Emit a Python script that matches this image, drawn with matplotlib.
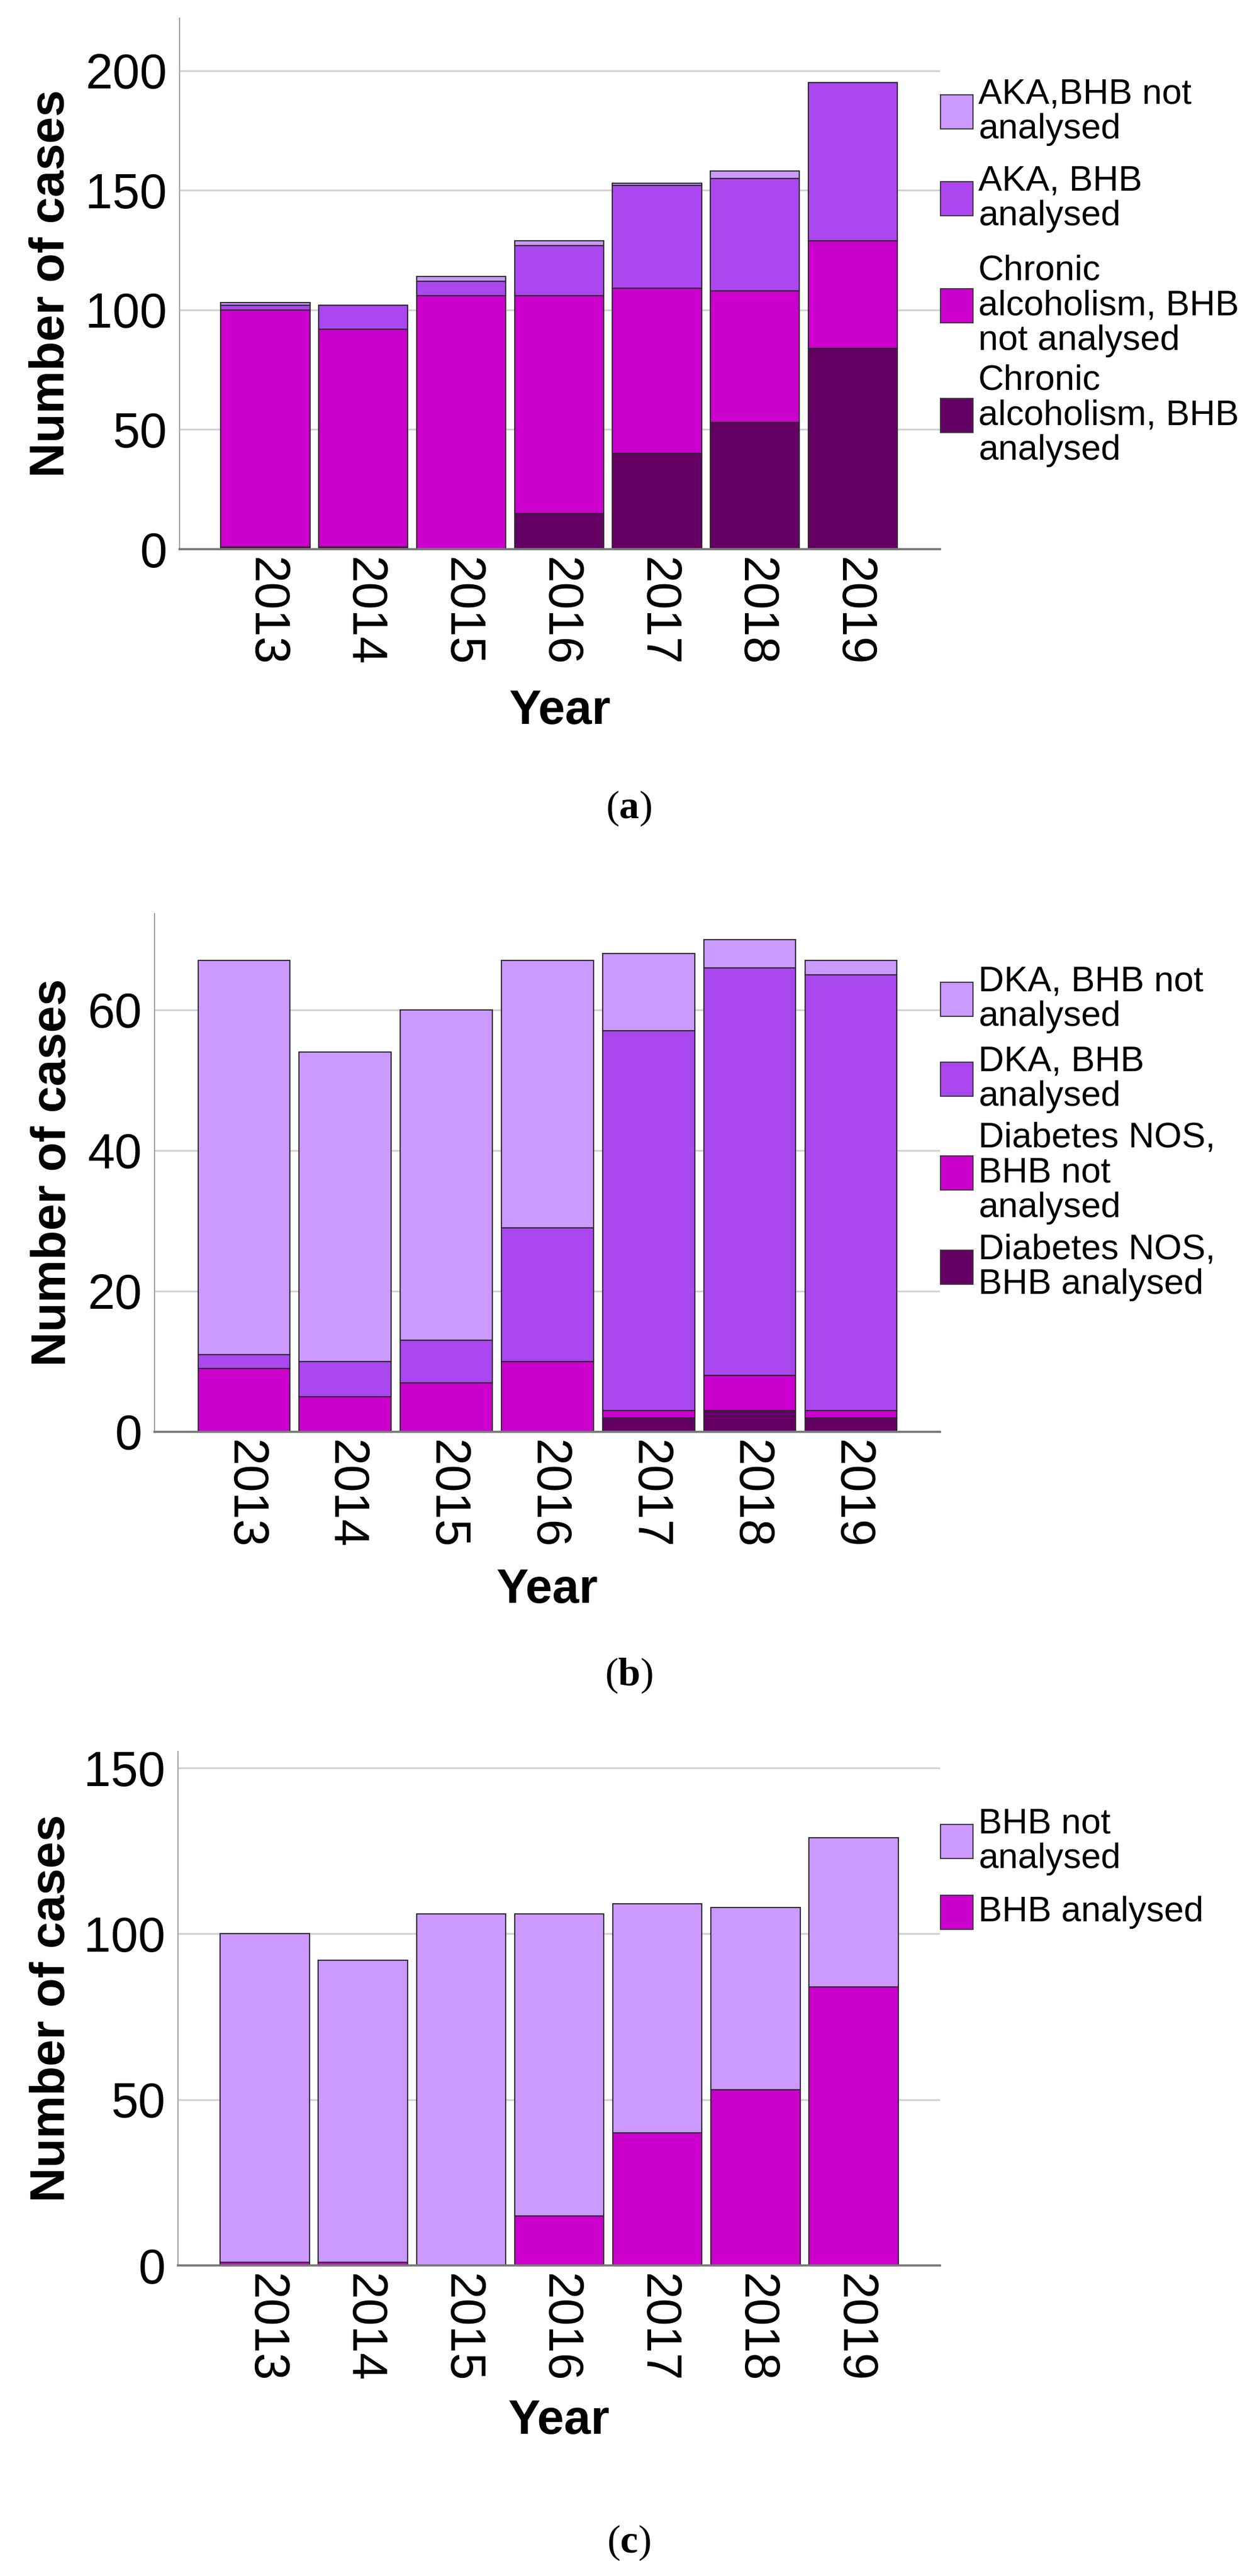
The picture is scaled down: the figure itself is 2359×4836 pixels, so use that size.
import numpy as np
import matplotlib.pyplot as plt
from matplotlib.patches import Rectangle

plt.rcParams['mathtext.fontset'] = 'custom'
plt.rcParams['mathtext.rm'] = 'Liberation Serif'
plt.rcParams['mathtext.bf'] = 'Liberation Serif:bold'

years = ['2013', '2014', '2015', '2016', '2017', '2018', '2019']

# (a) chronic alcoholism / AKA
chronic_bhb = [1, 1, 0, 15, 40, 53, 84]
chronic_no_bhb = [99, 91, 106, 91, 69, 55, 45]
aka_bhb = [2, 10, 6, 21, 43, 47, 66]
aka_no_bhb = [1, 0, 2, 2, 1, 3, 0]

# (b) diabetes / DKA
nos_bhb = [0, 0, 0, 0, 2, 3, 2]
nos_no_bhb = [9, 5, 7, 10, 1, 5, 1]
dka_bhb = [2, 5, 6, 19, 54, 58, 62]
dka_no_bhb = [56, 44, 47, 38, 11, 4, 2]

# (c) chronic alcoholism only
c_bhb = [1, 1, 0, 15, 40, 53, 84]
c_no_bhb = [99, 91, 106, 91, 69, 55, 45]

LAV = '#cc99ff'
MED = '#ab47ef'
MAG = '#cc00cc'
DARK = '#640064'

W, H = 2359, 4836
fig = plt.figure(figsize=(W / 100, H / 100), dpi=100)

tick_font = ['Liberation Sans Narrow', 'Liberation Sans']


def make_axes(l, r, t, b):
    return fig.add_axes([l / W, 1 - b / H, (r - l) / W, (b - t) / H])


def stack(ax, series, colors):
    x = np.arange(len(years))
    bottom = np.zeros(len(years))
    for vals, c in zip(series, colors):
        ax.bar(x, vals, width=0.91, bottom=bottom, color=c,
               edgecolor='#2a2a2a', linewidth=1.6, zorder=3)
        bottom = bottom + np.array(vals)


def style(ax, ymax, yticks, xlim, ylab_x, year_y, l, b, t):
    ax.set_ylim(0, ymax)
    ax.set_xlim(*xlim)
    ax.set_yticks(yticks)
    ax.set_xticks(np.arange(len(years)))
    ax.set_xticklabels(years, rotation=-90, va='top', ha='center')
    ax.tick_params(length=0)
    ax.tick_params(axis='y', pad=17)
    ax.tick_params(axis='x', pad=11)
    for lab in ax.get_xticklabels() + ax.get_yticklabels():
        lab.set_family(tick_font)
        lab.set_fontsize(66)
    ax.yaxis.grid(True, color='#d2d2d2', linewidth=2.5)
    ax.set_axisbelow(True)
    for s in ['top', 'right']:
        ax.spines[s].set_visible(False)
    ax.spines['left'].set_color('#9a9a9a')
    ax.spines['left'].set_linewidth(1.5)
    ax.spines['bottom'].set_color('#7a7a7a')
    ax.spines['bottom'].set_linewidth(3)
    ax.spines['bottom'].set_zorder(4)
    h = b - t
    ax.set_ylabel('Number of cases', fontsize=65, fontweight='bold',
                  family='Liberation Sans', va='center')
    ax.yaxis.set_label_coords((ylab_x - l) / (1764 - l), 0.5)
    ax.set_xlabel('Year', fontsize=65, fontweight='bold',
                  family='Liberation Sans', va='center')
    ax.xaxis.set_label_coords(0.5, -(year_y - b) / h)


def legend(labels, colors, centers):
    for lab, c, cy in zip(labels, colors, centers):
        fig.patches.append(Rectangle((1765 / W, 1 - (cy + 32) / H), 61 / W, 64 / H,
                                     transform=fig.transFigure, facecolor=c,
                                     edgecolor='#3a3a3a', linewidth=1.6))
        fig.text(1836 / W, 1 - cy / H, lab, fontsize=48, family='Liberation Sans',
                 va='center', ha='left', linespacing=1.08)


def caption(letter, cy):
    fig.text(1180 / W, 1 - cy / H, r'$\mathrm{(}\mathbf{' + letter + r'}\mathrm{)}$',
             fontsize=54, ha='center', va='center')


# panel (a)
ax1 = make_axes(337, 1764, 34, 1031)
stack(ax1, [chronic_bhb, chronic_no_bhb, aka_bhb, aka_no_bhb], [DARK, MAG, MED, LAV])
style(ax1, 222, [0, 50, 100, 150, 200], (-0.876, 6.89), 97, 1335, 337, 1031, 34)
legend(['AKA,BHB not\nanalysed', 'AKA, BHB\nanalysed',
        'Chronic\nalcoholism, BHB\nnot analysed', 'Chronic\nalcoholism, BHB\nanalysed'],
       [LAV, MED, MAG, DARK], [210, 373, 574, 780])
caption('a', 1518)

# panel (b)
ax2 = make_axes(290, 1764, 1715, 2688)
stack(ax2, [nos_bhb, nos_no_bhb, dka_bhb, dka_no_bhb], [DARK, MAG, MED, LAV])
style(ax2, 73.7, [0, 20, 40, 60], (-0.885, 6.88), 100, 2985, 290, 2688, 1715)
legend(['DKA, BHB not\nanalysed', 'DKA, BHB\nanalysed',
        'Diabetes NOS,\nBHB not\nanalysed', 'Diabetes NOS,\nBHB analysed'],
       [LAV, MED, MAG, DARK], [1876, 2026, 2202, 2379])
caption('b', 3145)

# panel (c)
ax3 = make_axes(334, 1764, 3288, 4253)
stack(ax3, [c_bhb, c_no_bhb], [MAG, LAV])
style(ax3, 155, [0, 50, 100, 150], (-0.885, 6.88), 97, 4545, 334, 4253, 3288)
legend(['BHB not\nanalysed', 'BHB analysed'], [LAV, MAG], [3457, 3590])
caption('c', 4773)

fig.savefig('out.png', dpi=100)
